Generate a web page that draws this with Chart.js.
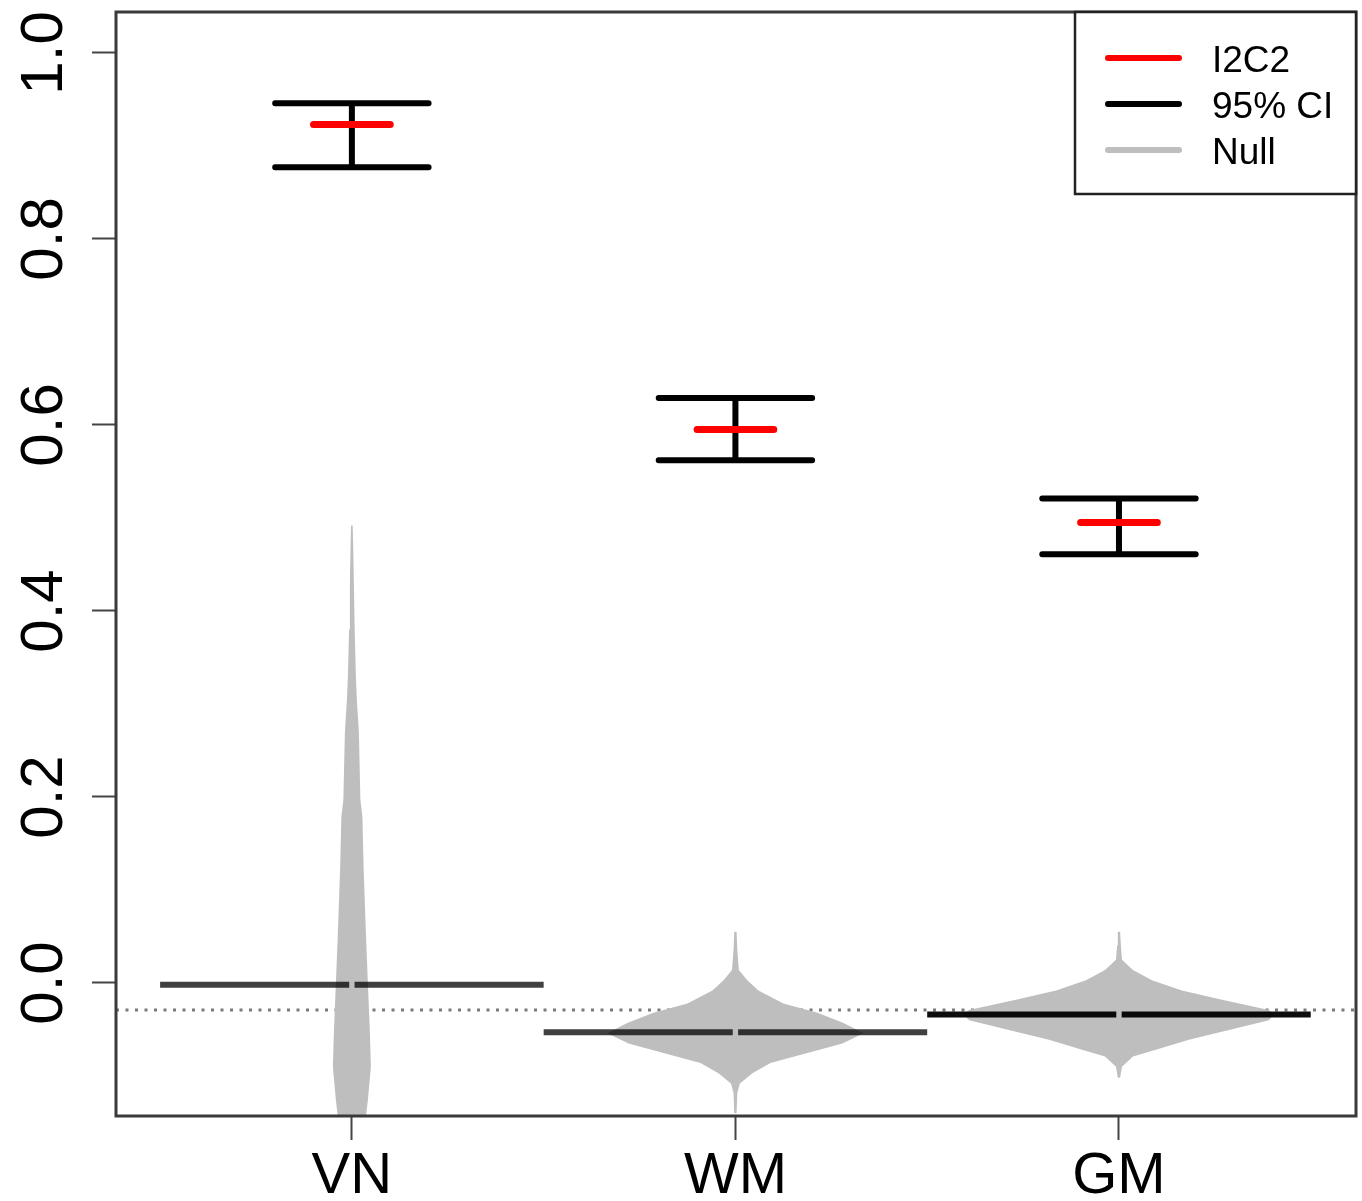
<!DOCTYPE html>
<html>
<head>
<meta charset="utf-8">
<script src="https://cdn.jsdelivr.net/npm/chart.js@4.4.1/dist/chart.umd.min.js"></script>
<style>
  html, body { margin: 0; padding: 0; background: #fff; overflow: hidden; }
  #wrap { position: relative; width: 1362px; height: 1201px; }
</style>
</head>
<body>
<div id="wrap"><canvas id="chart"></canvas></div>
<script>
const categories = ["VN", "WM", "GM"];
const i2c2 = [0.923, 0.595, 0.495];
const ciLower = [0.877, 0.562, 0.461];
const ciUpper = [0.946, 0.629, 0.521];
const nullMedian = [-0.002, -0.053, -0.034];
const nullReference = -0.029;
const yTicks = [0, 0.2, 0.4, 0.6, 0.8, 1.0];
const legendLabels = ["I2C2", "95% CI", "Null"];

// null distributions (violins): value and half width in x units
const vnNullY = [-0.16, -0.144, -0.126, -0.09, -0.054, 0.0, 0.054, 0.125, 0.179, 0.197, 0.269, 0.304, 0.33, 0.38, 0.43, 0.47, 0.492];
const vnNullWidth = [0.034, 0.0365, 0.0417, 0.0495, 0.047, 0.0417, 0.0365, 0.0305, 0.0274, 0.0222, 0.0183, 0.013, 0.0104, 0.0073, 0.0052, 0.0034, 0.0021];
const wmNullY = [-0.140, -0.118, -0.108, -0.097, -0.086, -0.075, -0.065, -0.054, -0.043, -0.032, -0.022, -0.008, 0.003, 0.014, 0.035, 0.055];
const wmNullWidth = [0.003, 0.005, 0.0117, 0.0443, 0.0913, 0.190, 0.279, 0.334, 0.282, 0.214, 0.125, 0.060, 0.031, 0.009, 0.005, 0.003];
const gmNullY = [-0.102, -0.090, -0.079, -0.072, -0.061, -0.051, -0.040, -0.034, -0.029, -0.018, -0.008, 0.003, 0.014, 0.025, 0.040, 0.055];
const gmNullWidth = [0.003, 0.0078, 0.0365, 0.094, 0.1825, 0.2816, 0.391, 0.404, 0.391, 0.2686, 0.164, 0.086, 0.0365, 0.0078, 0.005, 0.003];

const FONT = "'Liberation Sans', Arial, Helvetica, sans-serif";
const GREY = "#bebebe";

function violin(center, ys, ws) {
  const left = ys.map((y, i) => ({ x: center - ws[i], y: y }));
  const right = ys.map((y, i) => ({ x: center + ws[i], y: y })).reverse();
  return left.concat(right);
}

function medianLine(i) {
  const c = i + 1, w = 0.5, gap = 0.007, m = nullMedian[i];
  return [{ x: c - w, y: m }, { x: c - gap, y: m }, { x: c, y: null }, { x: c + gap, y: m }, { x: c + w, y: m }];
}

const ciPoints = [];
const estPoints = [];
categories.forEach((cat, i) => {
  const c = i + 1;
  ciPoints.push({ x: c - 0.2, y: ciUpper[i] }, { x: c + 0.2, y: ciUpper[i] }, { x: c, y: null });
  ciPoints.push({ x: c - 0.2, y: ciLower[i] }, { x: c + 0.2, y: ciLower[i] }, { x: c, y: null });
  ciPoints.push({ x: c, y: ciLower[i] }, { x: c, y: ciUpper[i] }, { x: c, y: null });
  estPoints.push({ x: c - 0.1, y: i2c2[i] }, { x: c + 0.1, y: i2c2[i] }, { x: c, y: null });
});

const lineDefaults = { showLine: true, pointRadius: 0, pointHoverRadius: 0, spanGaps: false, tension: 0 };

const decorations = {
  id: "decorations",
  afterDraw(chart) {
    const { ctx, chartArea: a, scales } = chart;
    ctx.save();
    // frame
    ctx.strokeStyle = "#3a3a3a";
    ctx.lineWidth = 3;
    ctx.strokeRect(a.left, a.top, a.right - a.left, a.bottom - a.top);

    // rotated y tick labels
    ctx.fillStyle = "#000";
    ctx.font = "60px " + FONT;
    ctx.textAlign = "center";
    ctx.textBaseline = "alphabetic";
    yTicks.forEach(v => {
      const py = scales.y.getPixelForValue(v);
      ctx.save();
      ctx.translate(a.left - 54, py);
      ctx.rotate(-Math.PI / 2);
      ctx.fillText(v.toFixed(1), 0, 0);
      ctx.restore();
    });

    // legend
    const lx = a.right - 281, ly = a.top, lw = 281, lh = 182;
    ctx.fillStyle = "#fff";
    ctx.fillRect(lx, ly, lw, lh);
    ctx.strokeStyle = "#222";
    ctx.lineWidth = 2.5;
    ctx.strokeRect(lx, ly, lw, lh);
    const colors = ["#ff0000", "#000000", GREY];
    ctx.font = "37px " + FONT;
    ctx.textAlign = "left";
    legendLabels.forEach((lab, i) => {
      const y = ly + 46 + i * 46;
      ctx.strokeStyle = colors[i];
      ctx.lineWidth = 6;
      ctx.lineCap = "round";
      ctx.beginPath();
      ctx.moveTo(lx + 33, y);
      ctx.lineTo(lx + 104, y);
      ctx.stroke();
      ctx.fillStyle = "#000";
      ctx.fillText(lab, lx + 137, y + 14);
    });
    ctx.restore();
  }
};

new Chart(document.getElementById("chart"), {
  type: "scatter",
  data: {
    datasets: [
      {
        ...lineDefaults,
        data: [{ x: 0.385, y: nullReference }, { x: 3.618, y: nullReference }],
        borderColor: "#7a7a7a",
        borderWidth: 3,
        borderDash: [3, 6.5],
        order: 5,
      },
      {
        ...lineDefaults,
        data: violin(1, vnNullY, vnNullWidth),
        borderWidth: 0,
        borderColor: GREY,
        backgroundColor: GREY,
        fill: "shape",
        order: 4,
      },
      {
        ...lineDefaults,
        data: violin(2, wmNullY, wmNullWidth),
        borderWidth: 0,
        borderColor: GREY,
        backgroundColor: GREY,
        fill: "shape",
        order: 4,
      },
      {
        ...lineDefaults,
        data: violin(3, gmNullY, gmNullWidth),
        borderWidth: 0,
        borderColor: GREY,
        backgroundColor: GREY,
        fill: "shape",
        order: 4,
      },
      {
        ...lineDefaults,
        data: medianLine(0).concat([{ x: 1.5, y: null }], medianLine(1)),
        borderColor: "rgba(0,0,0,0.75)",
        borderWidth: 6,
        order: 3,
      },
      {
        ...lineDefaults,
        data: medianLine(2),
        borderColor: "rgba(0,0,0,0.95)",
        borderWidth: 6,
        order: 3,
      },
      {
        ...lineDefaults,
        data: ciPoints,
        borderColor: "#000",
        borderWidth: 6,
        borderCapStyle: "round",
        order: 2,
      },
      {
        ...lineDefaults,
        data: estPoints,
        borderColor: "#ff0000",
        borderWidth: 7,
        borderCapStyle: "round",
        order: 1,
      },
    ],
  },
  options: {
    responsive: true,
    maintainAspectRatio: false,
    animation: false,
    events: [],
    layout: { padding: { top: 12, right: 6, left: 0, bottom: 0 } },
    plugins: { legend: { display: false }, tooltip: { enabled: false } },
    scales: {
      x: {
        type: "linear",
        min: 0.385,
        max: 3.618,
        afterBuildTicks: s => { s.ticks = categories.map((_, i) => ({ value: i + 1 })); },
        ticks: {
          callback: v => categories[Math.round(v) - 1],
          font: { size: 58, family: FONT },
          color: "#000",
          padding: 2,
          maxRotation: 0,
          autoSkip: false,
        },
        grid: { drawOnChartArea: false, drawTicks: true, tickLength: 24, tickWidth: 2, tickColor: "#444" },
        border: { display: false },
        afterFit: s => { s.height = 85; },
      },
      y: {
        min: -0.143,
        max: 1.044,
        afterBuildTicks: s => { s.ticks = yTicks.map(v => ({ value: v })); },
        ticks: { display: false },
        grid: { drawOnChartArea: false, drawTicks: true, tickLength: 24, tickWidth: 2, tickColor: "#444" },
        border: { display: false },
        afterFit: s => { s.width = 116; },
      },
    },
  },
  plugins: [decorations],
});
</script>
</body>
</html>
